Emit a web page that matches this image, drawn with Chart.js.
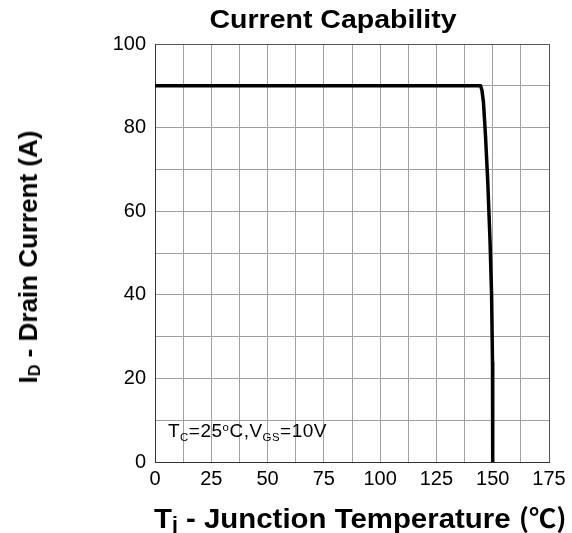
<!DOCTYPE html>
<html>
<head>
<meta charset="utf-8">
<script src="https://cdn.jsdelivr.net/npm/chart.js@4.4.1/dist/chart.umd.min.js"></script>
<style>
  html, body { margin: 0; padding: 0; background: #fff; }
  #wrap { position: relative; width: 572px; height: 533px; font-family: "Liberation Sans", Arial, sans-serif; color: #000; }
  #chart { position: absolute; left: 0; top: 0; }
  .lbl { position: absolute; white-space: nowrap; font-weight: bold; }
  #title { left: 333px; top: 7px; font-size: 25px; line-height: 25px; transform: translateX(-50%) scaleX(1.14); }
  #xtitle { left: 154px; top: 503px; font-size: 28px; line-height: 28px; transform-origin: left center; transform: scaleX(1.05); }
  #xtitle .unit { font-family: "Noto Sans CJK SC", "Liberation Sans", sans-serif; font-weight: bold; font-size: 26px; }
  #ytitle { left: 28px; top: 257px; font-size: 26px; line-height: 26px; transform: translate(-50%, -50%) rotate(-90deg); }
  #note { position: absolute; left: 168px; top: 421px; font-size: 19px; line-height: 19px; white-space: nowrap; letter-spacing: 0.5px; }
  sub { font-size: 0.6em; vertical-align: -0.35em; line-height: 0; }
  #ytitle sub { font-size: 0.62em; vertical-align: -0.2em; }
  #xtitle sub { font-size: 0.72em; vertical-align: -0.15em; }
  .deg { font-size: 0.6em; vertical-align: 0.55em; line-height: 0; }
</style>
</head>
<body>
<div id="wrap">
  <canvas id="chart" width="572" height="533"></canvas>
  <div class="lbl" id="title">Current Capability</div>
  <div class="lbl" id="ytitle">I<sub>D</sub> - Drain Current (A)</div>
  <div class="lbl" id="xtitle">T<sub>j</sub> - Junction Temperature <span class="unit">(℃)</span></div>
  <div id="note">T<sub>C</sub>=25<span class="deg">o</span>C,V<sub>GS</sub>=10V</div>
</div>
<script>
// 곡선 데이터
const tempC  = [0, 144.6, 145.2, 145.9, 146.8, 147.8, 148.8, 149.5, 149.9, 150];
const drainA = [90, 90, 89, 86, 78, 67, 53, 40, 24, 0];

// 축 눈금 라벨
const xTickLabels = [0, 25, 50, 75, 100, 125, 150, 175];
const yTickLabels = [0, 20, 40, 60, 80, 100];

const tickFont = { family: "'Liberation Sans', Arial, sans-serif", size: 20 };

function gridColor(max) {
  return (ctx) => (ctx.tick && ctx.tick.value === max ? "#555" : "#a0a0a0");
}

new Chart(document.getElementById("chart"), {
  type: "scatter",
  data: {
    datasets: [
      {
        data: tempC.map((t, i) => ({ x: t, y: drainA[i] })),
        showLine: true,
        borderColor: "#000",
        borderWidth: 3.5,
        borderJoinStyle: "round",
        pointRadius: 0,
        tension: 0,
      },
    ],
  },
  options: {
    responsive: false,
    animation: false,
    layout: { padding: { left: 100, right: 23, top: 44, bottom: 0 } },
    scales: {
      x: {
        type: "linear",
        min: 0,
        max: 175,
        afterFit: (s) => { s.height = 71; },
        grid: { color: gridColor(175), lineWidth: 1, drawTicks: false },
        border: { color: "#333", width: 1 },
        ticks: {
          stepSize: 12.5,
          autoSkip: false,
          maxRotation: 0,
          padding: 5,
          color: "#000",
          font: tickFont,
          callback: (v) => (xTickLabels.includes(v) ? String(v) : ""),
        },
      },
      y: {
        min: 0,
        max: 100,
        afterFit: (s) => { s.width = 55; },
        grid: { color: gridColor(100), lineWidth: 1, drawTicks: false },
        border: { color: "#333", width: 1 },
        ticks: {
          stepSize: 10,
          autoSkip: false,
          padding: 9,
          color: "#000",
          font: tickFont,
          callback: (v) => (yTickLabels.includes(v) ? String(v) : ""),
        },
      },
    },
    plugins: {
      legend: { display: false },
      tooltip: { enabled: false },
    },
  },
});
</script>
</body>
</html>
